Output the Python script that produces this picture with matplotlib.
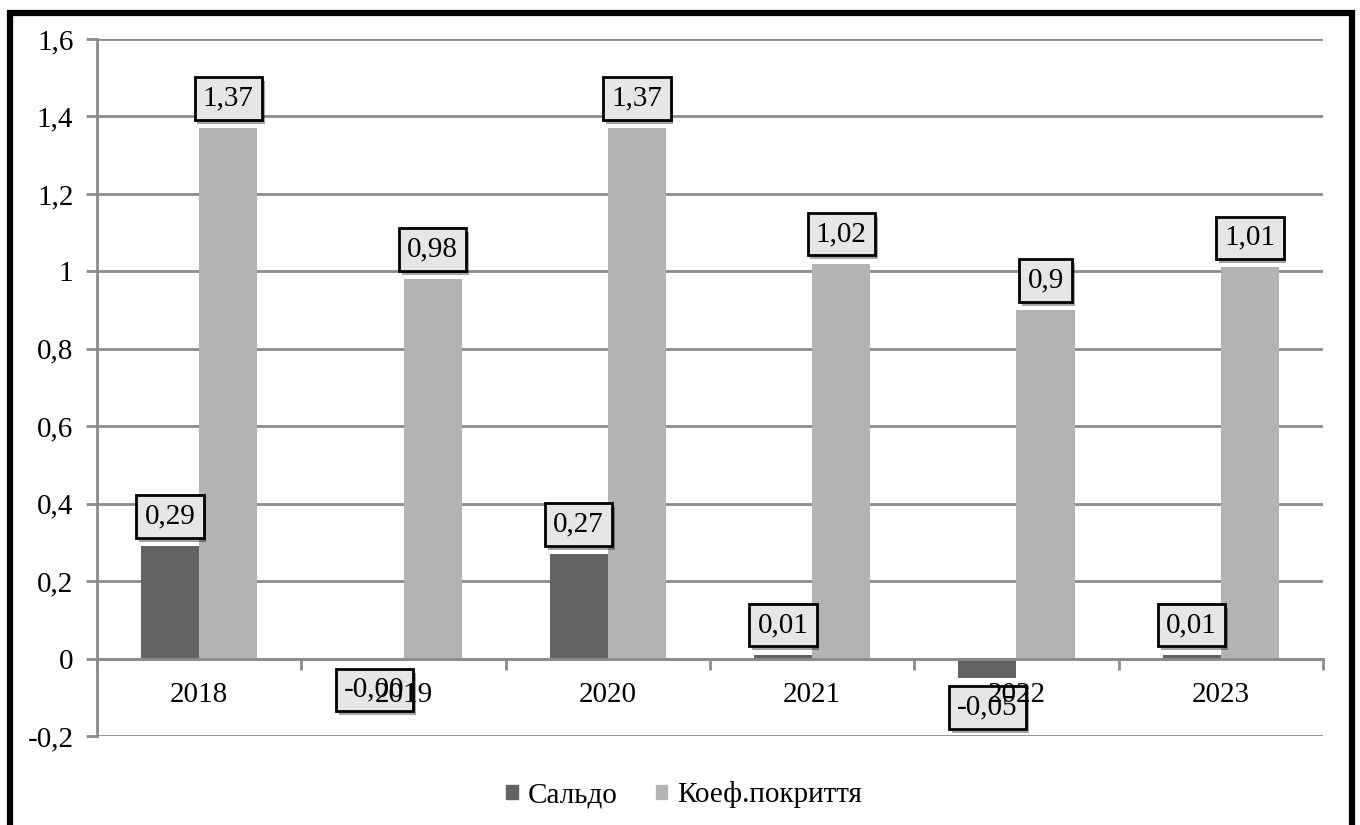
import matplotlib
matplotlib.use("Agg")
import matplotlib.pyplot as plt
import matplotlib.patheffects as pe
from matplotlib.patches import Rectangle, Patch
from matplotlib.transforms import blended_transform_factory, offset_copy
import numpy as np

plt.rcParams['font.family'] = ['Liberation Serif', 'DejaVu Serif']

years = ['2018', '2019', '2020', '2021', '2022', '2023']
saldo = [0.29, -0.004, 0.27, 0.01, -0.05, 0.01]
coverage = [1.37, 0.98, 1.37, 1.02, 0.90, 1.01]
series_names = ['Сальдо', 'Коеф.покриття']
y_ticks = [-0.2, 0.0, 0.2, 0.4, 0.6, 0.8, 1.0, 1.2, 1.4, 1.6]

dark = '#636363'
light = '#b3b3b3'
grid_col = '#8c8c8c'
fs = 21


def fmt(v):
    s = f"{v:.2f}"
    if float(s) != 0:
        s = s.rstrip('0').rstrip('.')
    return s.replace('.', ',')


def fmt_tick(v):
    if abs(v) < 1e-9:
        return '0'
    s = f"{v:.1f}"
    s = s.rstrip('0').rstrip('.')
    return s.replace('.', ',')


fig = plt.figure(figsize=(13.6, 8.25), dpi=100)
ax = fig.add_axes([97 / 1360, 1 - 736 / 825, (1323 - 97) / 1360, (736 - 39) / 825])

x = np.arange(len(years))
w = 0.285
ax.bar(x - w / 2, saldo, w, color=dark, zorder=3)
ax.bar(x + w / 2, coverage, w, color=light, zorder=3)

ax.set_xlim(-0.5, len(years) - 0.5)
ax.set_ylim(-0.2, 1.6)
ax.set_yticks(y_ticks)
ax.set_yticklabels([fmt_tick(t) for t in y_ticks], fontsize=fs)
ax.yaxis.grid(True, color=grid_col, linewidth=2, zorder=0)
ax.tick_params(axis='y', length=8, width=2, color=grid_col, pad=9)

# x axis sits on the zero line; ticks at category boundaries
ax.spines['bottom'].set_position(('data', 0))
ax.spines['bottom'].set_color(grid_col)
ax.spines['bottom'].set_linewidth(2)
ax.spines['bottom'].set_zorder(4)
ax.spines['left'].set_color(grid_col)
ax.spines['left'].set_linewidth(2)
ax.spines['top'].set_visible(False)
ax.spines['right'].set_visible(False)
ax.set_xticks(x)
ax.set_xticklabels([])
ax.set_xticks(np.arange(len(years) + 1) - 0.5, minor=True)
ax.tick_params(axis='x', which='major', length=0)
ax.tick_params(axis='x', which='minor', length=8, width=2, color=grid_col)

# category names below the zero line, drawn above the value boxes
cat_tr = offset_copy(ax.transData, fig=fig, x=0, y=-36 * 72 / 100, units='points')
for i, yr in enumerate(years):
    ax.text(x[i], 0, yr, transform=cat_tr, ha='center', va='center',
            fontsize=fs, zorder=8)

shadow = [pe.withSimplePatchShadow(offset=(2, -3), shadow_rgbFace='k', alpha=0.35)]


def label(xpos, val):
    up = val >= 0
    t = ax.annotate(fmt(val), (xpos, val), xytext=(0, 12 if up else -12),
                    textcoords='offset points', ha='center',
                    va='bottom' if up else 'top', fontsize=fs, zorder=6,
                    bbox=dict(boxstyle='square,pad=0.28', fc='#e6e6e6',
                              ec='black', lw=2))
    t.get_bbox_patch().set_path_effects(shadow)


for i in range(len(years)):
    label(x[i] - w / 2, saldo[i])
    label(x[i] + w / 2, coverage[i])

handles = [Patch(color=dark), Patch(color=light)]
fig.legend(handles, series_names, loc='center', bbox_to_anchor=(0.503, 1 - 795 / 825),
           ncol=2, frameon=False, fontsize=fs, handlelength=0.4, handleheight=0.4,
           handletextpad=0.35, columnspacing=1.3)

# outer frame of the chart
fig.patches.append(Rectangle((10 / 1360, -0.05), (1352 - 10) / 1360, 1 - 13 / 825 + 0.05,
                             transform=fig.transFigure, fill=False, ec='black', lw=4.5,
                             zorder=10))

fig.savefig('out.png', dpi=100)
